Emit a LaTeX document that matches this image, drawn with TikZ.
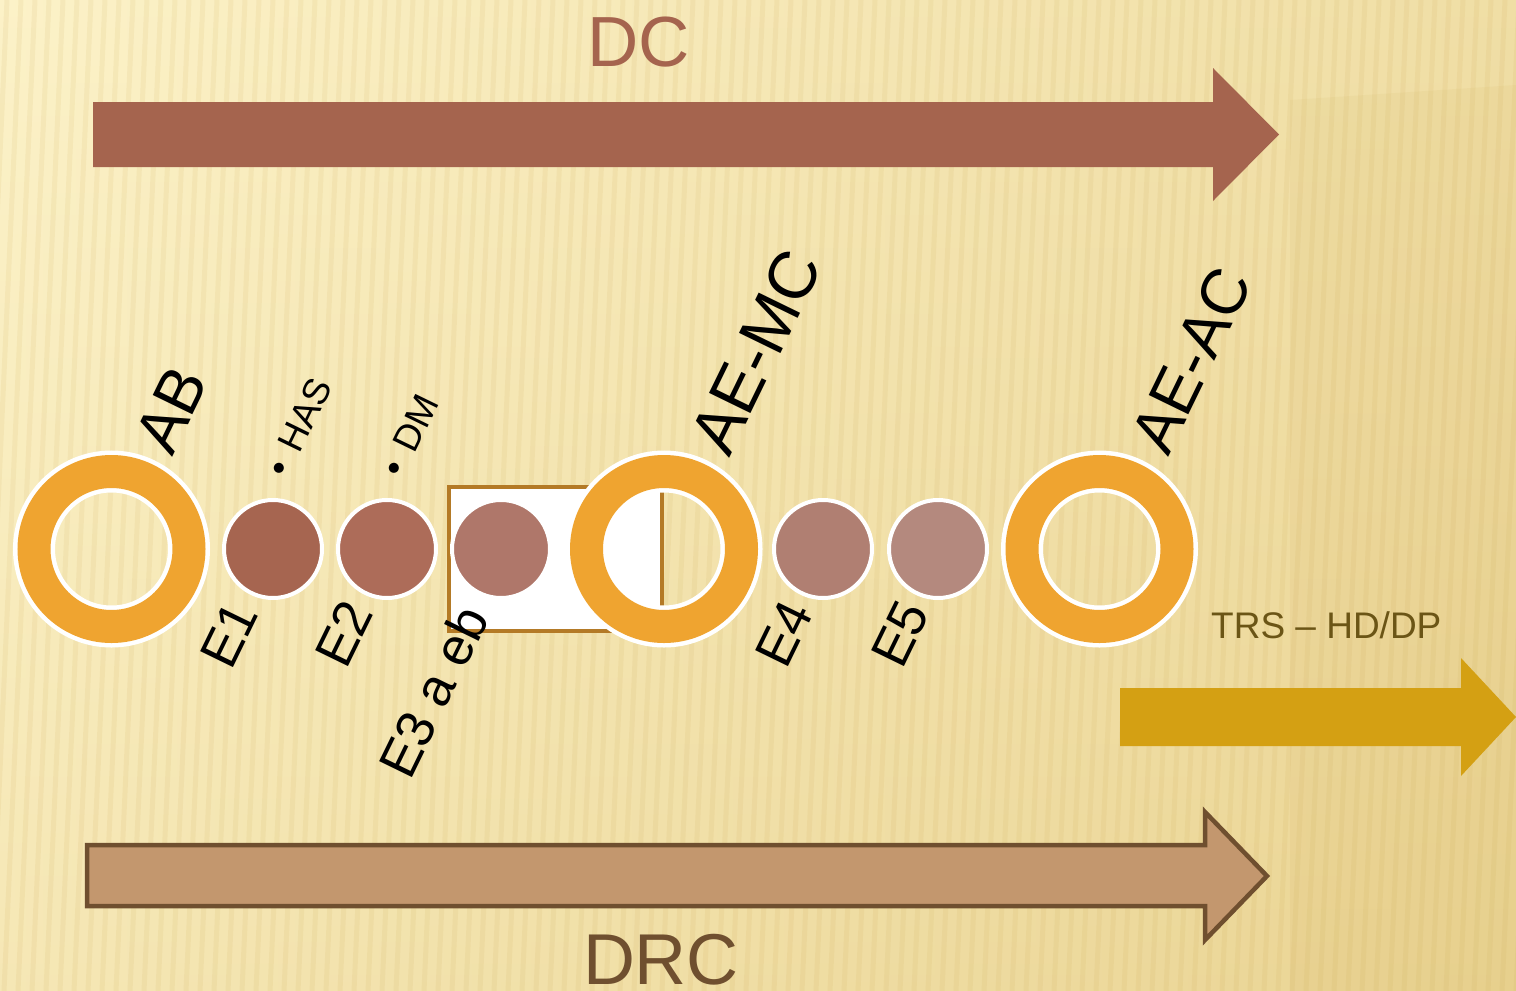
\documentclass[tikz,border=0pt]{standalone}
\usepackage{fontspec}
\setmainfont{Liberation Sans}
\definecolor{dcbrown}{HTML}{A5644E}
\definecolor{ringorange}{HTML}{EFA430}
\definecolor{boxbrown}{HTML}{B47A26}
\definecolor{eA}{HTML}{A66550}
\definecolor{eB}{HTML}{AD6C59}
\definecolor{eC}{HTML}{AF776A}
\definecolor{eD}{HTML}{B07F72}
\definecolor{eE}{HTML}{B4897E}
\definecolor{trsgold}{HTML}{D4A013}
\definecolor{trstext}{HTML}{6B5516}
\definecolor{drcfill}{HTML}{C3976E}
\definecolor{drcline}{HTML}{6F4F2F}
\definecolor{bgA}{HTML}{FCF2C8}
\definecolor{bgB}{HTML}{EAD493}
\definecolor{stripe}{HTML}{C9A24A}
\begin{document}
\begin{tikzpicture}[x=1pt,y=-1pt,
  ringnode/.style={circle, draw=white, double=ringorange, double distance=33pt,
    line width=4.5pt, minimum size=155pt, inner sep=0pt},
  dotnode/.style={circle, draw=white, line width=4pt, minimum size=98pt, inner sep=0pt},
  biglabel/.style={font=\fontsize{64}{64}\selectfont, rotate=64, anchor=base west, inner sep=0pt},
  midlabel/.style={font=\fontsize{53}{53}\selectfont, rotate=64, anchor=base west, inner sep=0pt},
  smalllabel/.style={font=\fontsize{37}{37}\selectfont, rotate=64, anchor=base west, inner sep=0pt},
  stripeline/.style={draw=stripe, line width=5pt, opacity=0.1}
]
\useasboundingbox (0,0) rectangle (1516,991);
% background
\shade[left color=bgA, right color=bgB] (0,0) rectangle (1516,991);
\shade[top color=bgA, bottom color=bgB, opacity=0.35] (0,0) rectangle (1516,991);
\fill[stripe, opacity=0.08] (1290,100) -- (1516,85) -- (1516,991) -- (1290,991) -- cycle;
\foreach \x in {-80,-66,...,1600} {
  \draw[stripeline] (\x+45,0) -- (\x,991);
}
% DC arrow
\fill[dcbrown] (93,102) -- (1213,102) -- (1213,68) -- (1279,134.5) -- (1213,201) -- (1213,167) -- (93,167) -- cycle;
\node[font=\fontsize{71}{71}\selectfont, text=dcbrown, anchor=base, inner sep=0pt] (dc) at (639,66) {DC};
% E3 box
\node[draw=boxbrown, fill=white, line width=4pt, minimum width=213pt, minimum height=144pt, inner sep=0pt] (box) at (555.5,559) {};
% rings
\node[ringnode] (ab) at (111.5,549) {};
\node[ringnode] (aemc) at (664,549) {};
\node[ringnode] (aeac) at (1099.5,549) {};
% dots
\node[dotnode, fill=eA] (e1) at (273,549) {};
\node[dotnode, fill=eB] (e2) at (387,549) {};
\node[dotnode, fill=eC] (e3) at (501,549) {};
\node[dotnode, fill=eD] (e4) at (823,549) {};
\node[dotnode, fill=eE] (e5) at (938,549) {};
% upper labels
\node[biglabel] (lab) at (172,458) {AB};
\node[biglabel, font=\fontsize{67}{67}\selectfont] (laemc) at (729,459) {AE-MC};
\node[biglabel] (laeac) at (1168,458) {AE-AC};
\node[smalllabel] (lhas) at (287,480) {•\hspace{0.42em}HAS};
\node[smalllabel] (ldm) at (402,480) {•\hspace{0.42em}DM};
% lower labels
\node[midlabel] (le1) at (231,672) {E1};
\node[midlabel] (le2) at (346,671) {E2};
\node[midlabel] (le3) at (410,782) {E3 a eb};
\node[midlabel] (le4) at (786,671) {E4};
\node[midlabel] (le5) at (902,671) {E5};
% TRS arrow
\fill[trsgold] (1120,688) -- (1461,688) -- (1461,658) -- (1516,717) -- (1461,776) -- (1461,746) -- (1120,746) -- cycle;
\node[font=\fontsize{37}{37}\selectfont, text=trstext, anchor=base west, inner sep=0pt] (trs) at (1211,638) {TRS – HD/DP};
% DRC arrow
\filldraw[fill=drcfill, draw=drcline, line width=4.5pt, line join=miter] (87,845) -- (1205,845) -- (1205,812) -- (1267,876) -- (1205,940) -- (1205,906) -- (87,906) -- cycle;
\node[font=\fontsize{72}{72}\selectfont, text=drcline, anchor=base, inner sep=0pt] (drc) at (661,984) {DRC};
\end{tikzpicture}
\end{document}
